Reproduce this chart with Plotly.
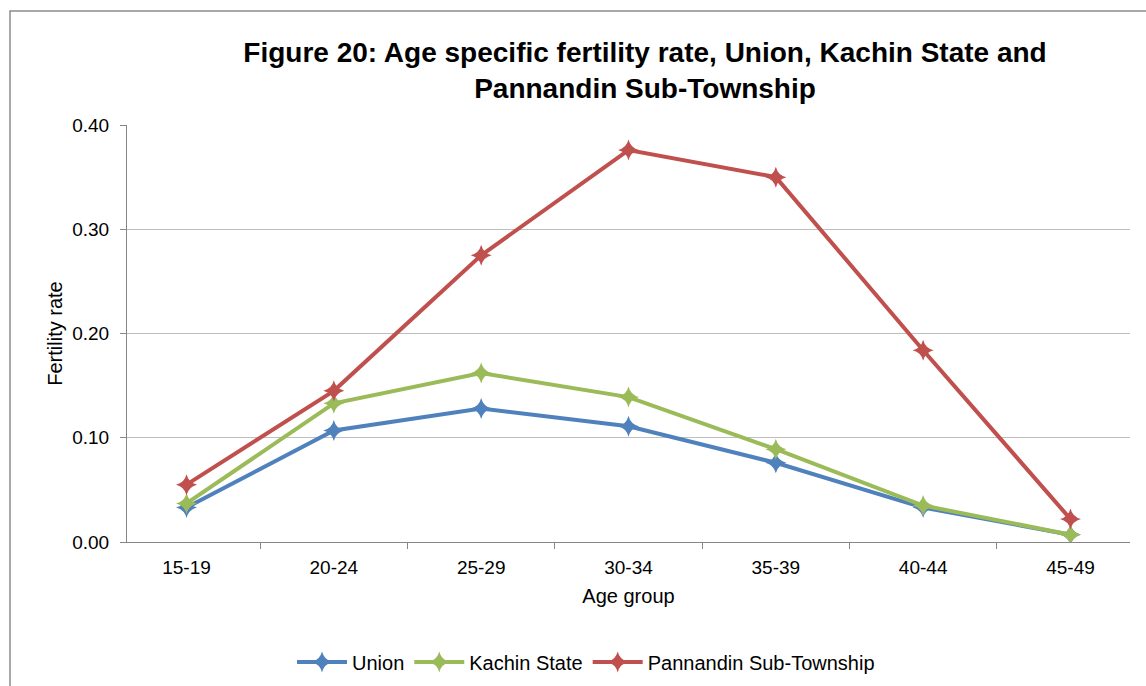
import plotly.graph_objects as go

age_groups = ["15-19", "20-24", "25-29", "30-34", "35-39", "40-44", "45-49"]
union = [0.033, 0.107, 0.128, 0.111, 0.076, 0.033, 0.007]
kachin = [0.037, 0.133, 0.162, 0.139, 0.089, 0.035, 0.007]
pannandin = [0.055, 0.145, 0.275, 0.376, 0.350, 0.184, 0.022]

series = [
    ("Union", union, "#4F81BD"),
    ("Kachin State", kachin, "#9BBB59"),
    ("Pannandin Sub-Township", pannandin, "#C0504D"),
]

fig = go.Figure()
for name, vals, col in series:
    fig.add_trace(go.Scatter(
        x=age_groups, y=vals, name=name, mode="lines+markers",
        line=dict(color=col, width=4),
        marker=dict(symbol="star-diamond", size=15, color=col),
    ))

W, H = 1146, 686
L, R, T, B = 127, 16, 125, 144
pw, ph = W - L - R, H - T - B

def px(x):
    return (x - L) / pw

def py(y):
    return (H - B - y) / ph

fig.update_layout(
    width=W, height=H,
    margin=dict(l=L, r=R, t=T, b=B, autoexpand=False),
    paper_bgcolor="white", plot_bgcolor="white",
    font=dict(family="Liberation Sans, Arial, sans-serif", color="#000000", size=19),
    title=dict(
        text="<b>Figure 20: Age specific fertility rate, Union, Kachin State and<br>Pannandin Sub-Township</b>",
        x=px(645), xref="paper", xanchor="center",
        y=1 - 62 / H, yanchor="middle",
        font=dict(size=28, color="#000000"),
    ),
    showlegend=True,
    legend=dict(
        orientation="h", x=px(586), xanchor="center", y=py(662), yanchor="middle",
        font=dict(size=20), itemwidth=50, traceorder="normal",
    ),
    xaxis=dict(
        type="category", tickson="boundaries", automargin=False,
        showgrid=False, showline=True, linecolor="#868686", linewidth=1,
        ticks="outside", ticklen=6, tickcolor="#868686",
        tickfont=dict(size=19), ticklabelstandoff=8,
        title=dict(text="Age group", font=dict(size=20), standoff=12),
    ),
    yaxis=dict(
        range=[0, 0.40], dtick=0.10, tickformat=".2f", automargin=False,
        showgrid=True, gridcolor="#BFBFBF", gridwidth=1,
        showline=True, linecolor="#868686", linewidth=1,
        ticks="outside", ticklen=6, tickcolor="#868686",
        tickfont=dict(size=19), ticklabelstandoff=7, zeroline=False,
        title=dict(text="Fertility rate", font=dict(size=20), standoff=4),
    ),
)

fig.add_shape(
    type="rect", xref="paper", yref="paper",
    x0=px(10), x1=px(1160), y0=py(11), y1=py(700),
    line=dict(color="#8C8C8C", width=1.5), fillcolor="rgba(0,0,0,0)", layer="below",
)

fig.write_html(
    "out.html",
    config={"displayModeBar": False},
    post_script="document.body.style.margin='0';document.body.style.overflow='hidden';",
)
